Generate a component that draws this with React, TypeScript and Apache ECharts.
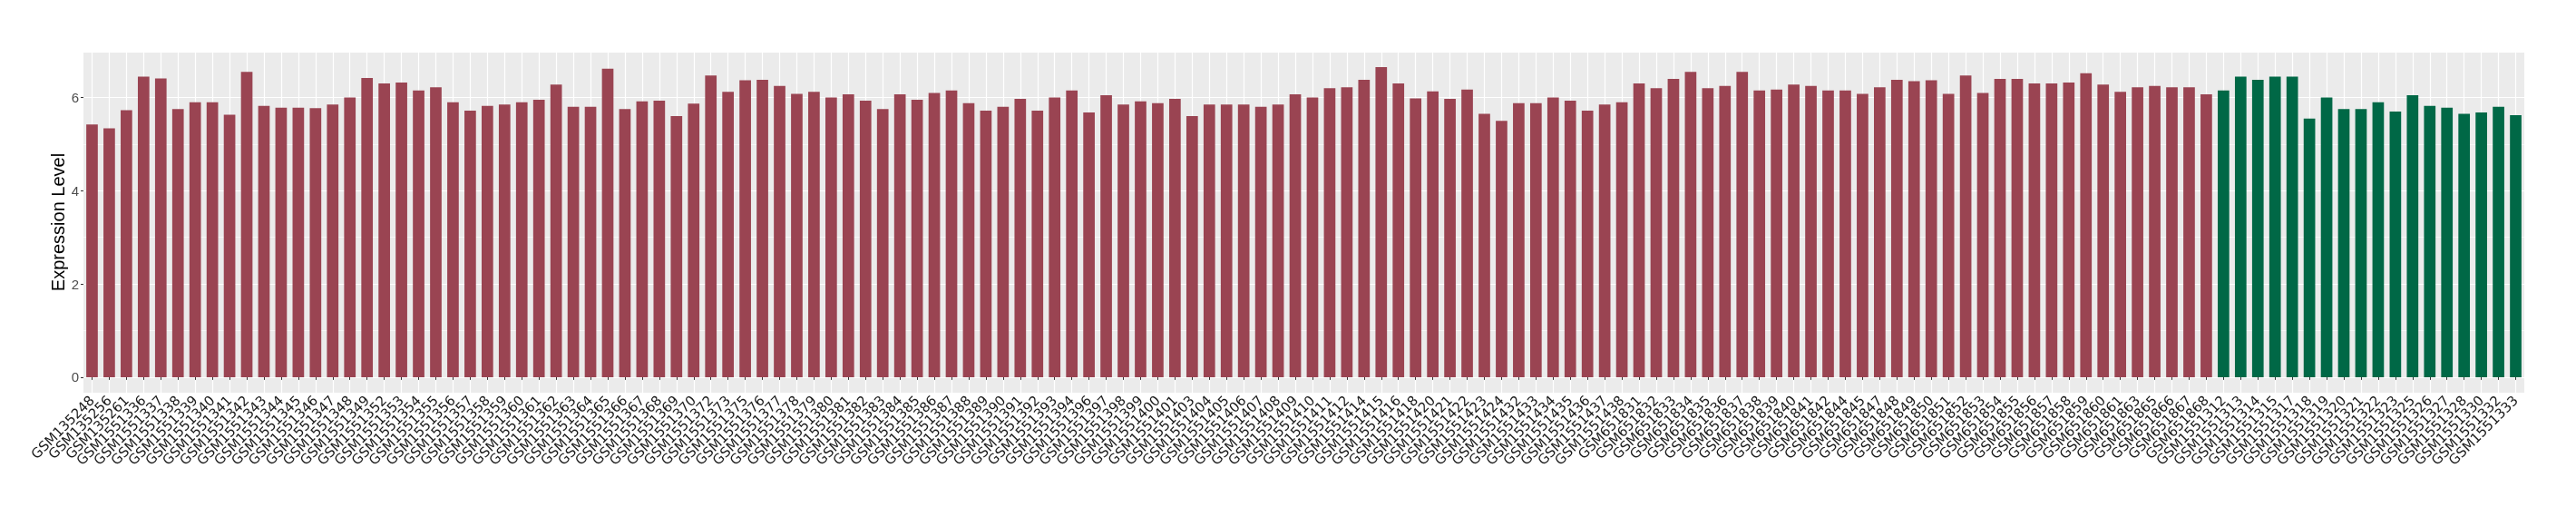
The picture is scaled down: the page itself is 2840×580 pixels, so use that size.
import React, { useEffect, useRef } from "react";
import * as echarts from "echarts";

const samples: string[] = [
  "GSM135248", "GSM135256", "GSM135261", "GSM1551336", "GSM1551337", "GSM1551338", "GSM1551339", "GSM1551340",
  "GSM1551341", "GSM1551342", "GSM1551343", "GSM1551344", "GSM1551345", "GSM1551346", "GSM1551347", "GSM1551348",
  "GSM1551349", "GSM1551352", "GSM1551353", "GSM1551354", "GSM1551355", "GSM1551356", "GSM1551357", "GSM1551358",
  "GSM1551359", "GSM1551360", "GSM1551361", "GSM1551362", "GSM1551363", "GSM1551364", "GSM1551365", "GSM1551366",
  "GSM1551367", "GSM1551368", "GSM1551369", "GSM1551370", "GSM1551372", "GSM1551373", "GSM1551375", "GSM1551376",
  "GSM1551377", "GSM1551378", "GSM1551379", "GSM1551380", "GSM1551381", "GSM1551382", "GSM1551383", "GSM1551384",
  "GSM1551385", "GSM1551386", "GSM1551387", "GSM1551388", "GSM1551389", "GSM1551390", "GSM1551391", "GSM1551392",
  "GSM1551393", "GSM1551394", "GSM1551396", "GSM1551397", "GSM1551398", "GSM1551399", "GSM1551400", "GSM1551401",
  "GSM1551403", "GSM1551404", "GSM1551405", "GSM1551406", "GSM1551407", "GSM1551408", "GSM1551409", "GSM1551410",
  "GSM1551411", "GSM1551412", "GSM1551414", "GSM1551415", "GSM1551416", "GSM1551418", "GSM1551420", "GSM1551421",
  "GSM1551422", "GSM1551423", "GSM1551424", "GSM1551432", "GSM1551433", "GSM1551434", "GSM1551435", "GSM1551436",
  "GSM1551437", "GSM1551438", "GSM651831", "GSM651832", "GSM651833", "GSM651834", "GSM651835", "GSM651836",
  "GSM651837", "GSM651838", "GSM651839", "GSM651840", "GSM651841", "GSM651842", "GSM651844", "GSM651845",
  "GSM651847", "GSM651848", "GSM651849", "GSM651850", "GSM651851", "GSM651852", "GSM651853", "GSM651854",
  "GSM651855", "GSM651856", "GSM651857", "GSM651858", "GSM651859", "GSM651860", "GSM651861", "GSM651863",
  "GSM651865", "GSM651866", "GSM651867", "GSM651868", "GSM1551312", "GSM1551313", "GSM1551314", "GSM1551315",
  "GSM1551317", "GSM1551318", "GSM1551319", "GSM1551320", "GSM1551321", "GSM1551322", "GSM1551323", "GSM1551325",
  "GSM1551326", "GSM1551327", "GSM1551328", "GSM1551330", "GSM1551332", "GSM1551333",
];

const expression: number[] = [
  5.42, 5.34, 5.73, 6.45, 6.41, 5.75, 5.9, 5.9, 5.63, 6.55, 5.82, 5.78, 5.78, 5.77, 5.85,
  6.0, 6.42, 6.3, 6.32, 6.15, 6.22, 5.9, 5.72, 5.82, 5.85, 5.9, 5.95, 6.28, 5.8, 5.8, 6.62,
  5.75, 5.92, 5.93, 5.6, 5.87, 6.47, 6.12, 6.37, 6.38, 6.25, 6.08, 6.12, 6.0, 6.07, 5.93, 5.75,
  6.07, 5.95, 6.1, 6.15, 5.88, 5.72, 5.8, 5.97, 5.72, 6.0, 6.15, 5.68, 6.05, 5.85, 5.92, 5.88,
  5.97, 5.6, 5.85, 5.85, 5.85, 5.8, 5.85, 6.07, 6.0, 6.2, 6.22, 6.38, 6.65, 6.3, 5.98, 6.13,
  5.97, 6.17, 5.65, 5.5, 5.88, 5.88, 6.0, 5.93, 5.72, 5.85, 5.9, 6.3, 6.2, 6.4, 6.55, 6.2,
  6.25, 6.55, 6.15, 6.17, 6.28, 6.25, 6.15, 6.15, 6.08, 6.22, 6.38, 6.35, 6.37, 6.08, 6.47, 6.1,
  6.4, 6.4, 6.3, 6.3, 6.32, 6.52, 6.28, 6.12, 6.22, 6.25, 6.22, 6.22, 6.07, 6.15, 6.45, 6.38, 6.45,
  6.45, 5.55, 6.0, 5.75, 5.75, 5.9, 5.7, 6.05, 5.82, 5.78, 5.65, 5.68, 5.8, 5.62,
];

const groups: string[] = [
  ...Array(124).fill("A"),
  ...Array(18).fill("B"),
];

const groupColors: Record<string, string> = { A: "#9A4452", B: "#006846" };

const minorTicks = [1, 3, 5];

export default function App() {
  const ref = useRef<HTMLDivElement>(null);
  useEffect(() => {
    if (!ref.current) return;
    const chart = echarts.init(ref.current, undefined, { renderer: "svg" });
    const font = "Liberation Sans, Arial, sans-serif";
    chart.setOption({
      animation: false,
      grid: {
        left: 92,
        right: 57,
        top: 57,
        bottom: 147,
        show: true,
        backgroundColor: "#EBEBEB",
        borderWidth: 0,
      },
      xAxis: {
        type: "category",
        data: samples,
        axisLine: { show: false },
        axisTick: { show: true, alignWithLabel: true, length: 3, lineStyle: { color: "#333333", width: 1 } },
        splitLine: { show: true, alignWithLabel: true, interval: 0, lineStyle: { color: "#FFFFFF", width: 1.2 } },
        axisLabel: {
          interval: 0,
          rotate: 45,
          margin: 6,
          fontFamily: "DejaVu Sans, sans-serif",
          fontSize: 15,
          color: "#1A1A1A",
        },
      },
      yAxis: {
        type: "value",
        min: -0.333,
        max: 6.983,
        splitNumber: 4,
        name: "Expression Level",
        nameLocation: "middle",
        nameGap: 18,
        nameMoveOverlap: false,
        nameTextStyle: { fontFamily: font, fontSize: 20, color: "#000000" },
        axisLine: { show: false },
        axisTick: { show: true, length: 3, lineStyle: { color: "#333333" } },
        axisLabel: {
          margin: 5,
          fontFamily: font,
          fontSize: 15,
          color: "#4D4D4D",
          showMinLabel: false,
          showMaxLabel: false,
        },
        splitLine: { show: true, lineStyle: { color: "#FFFFFF", width: 1.2 } },
      },
      series: [
        {
          type: "line",
          data: [],
          z: 1,
          silent: true,
          markLine: {
            z: 1,
            silent: true,
            symbol: "none",
            label: { show: false },
            lineStyle: { color: "#FFFFFF", width: 0.6, type: "solid" },
            data: minorTicks.map((v) => ({ yAxis: v })),
          },
        },
        {
          type: "bar",
          z: 3,
          barCategoryGap: "33%",
          data: expression.map((v, i) => ({
            value: v,
            itemStyle: { color: groupColors[groups[i]] },
          })),
        },
      ],
    });
    return () => chart.dispose();
  }, []);
  return (
    <div
      ref={ref}
      style={{ position: "fixed", left: 0, top: 0, width: 2840, height: 580 }}
    />
  );
}
